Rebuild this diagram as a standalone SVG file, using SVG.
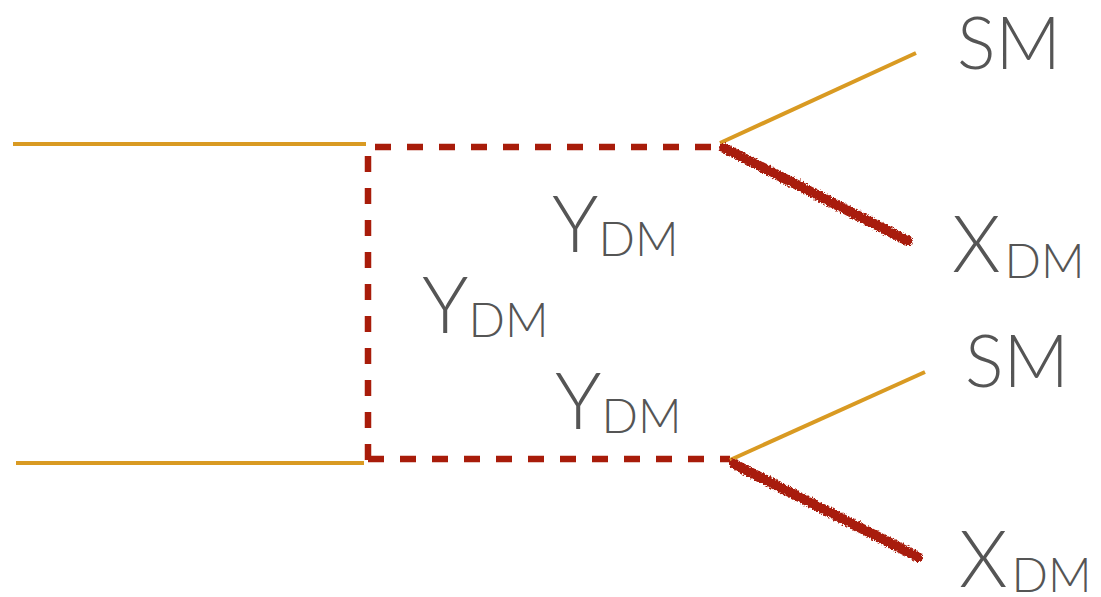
<svg xmlns="http://www.w3.org/2000/svg" width="1101" height="597" viewBox="0 0 1101 597">
  <style>
    .sm { stroke: #d99a22; stroke-width: 4; fill: none; }
    .dm { stroke: #a81c0a; stroke-width: 6.5; fill: none; stroke-dasharray: 16 16; }
    .chi { stroke: #a81c0a; stroke-width: 10; fill: none; stroke-linecap: round; filter: url(#rough); }
    .lbl { font-family: Lato, "Open Sans", sans-serif; font-weight: 300; fill: #555555; }
    .big { font-size: 78px; }
    .sub { font-size: 48px; }
  </style>
  <defs>
    <filter id="rough" x="-10%" y="-20%" width="120%" height="140%">
      <feTurbulence type="fractalNoise" baseFrequency="0.6" numOctaves="2" seed="3" result="n"/>
      <feDisplacementMap in="SourceGraphic" in2="n" scale="5" xChannelSelector="R" yChannelSelector="G"/>
    </filter>
  </defs>

  <g id="connectors">
    <!-- incoming SM legs -->
    <line class="sm" x1="13" y1="144" x2="366" y2="144"/>
    <line class="sm" x1="16" y1="463" x2="364" y2="463"/>
    <!-- mediator propagators -->
    <path class="dm" d="M368 460 L368 147 L720 147"/>
    <line class="dm" x1="368" y1="459" x2="730" y2="459"/>
    <!-- outgoing SM legs -->
    <line class="sm" x1="720" y1="143" x2="916" y2="53"/>
    <line class="sm" x1="730" y1="460" x2="925" y2="372"/>
    <!-- dark matter legs -->
    <line class="chi" x1="724" y1="148" x2="908" y2="241"/>
    <line class="chi" x1="734" y1="464" x2="918" y2="557"/>
  </g>

  <g id="label-sm-top"><text class="lbl" x="957" y="69" font-size="72">SM</text></g>
  <g id="label-xdm-top"><text class="lbl" x="952" y="272"><tspan class="big">X</tspan><tspan class="sub" dx="4" dy="6">DM</tspan></text></g>
  <g id="label-sm-bottom"><text class="lbl" x="965" y="387" font-size="72">SM</text></g>
  <g id="label-xdm-bottom"><text class="lbl" x="959" y="587"><tspan class="big">X</tspan><tspan class="sub" dx="4" dy="5">DM</tspan></text></g>
  <g id="label-ydm-top"><text class="lbl" x="552" y="252"><tspan class="big">Y</tspan><tspan class="sub" dx="0" dy="4">DM</tspan></text></g>
  <g id="label-ydm-mid"><text class="lbl" x="422" y="333"><tspan class="big">Y</tspan><tspan class="sub" dx="0" dy="4">DM</tspan></text></g>
  <g id="label-ydm-bottom"><text class="lbl" x="555" y="429"><tspan class="big">Y</tspan><tspan class="sub" dx="0" dy="4">DM</tspan></text></g>
</svg>
